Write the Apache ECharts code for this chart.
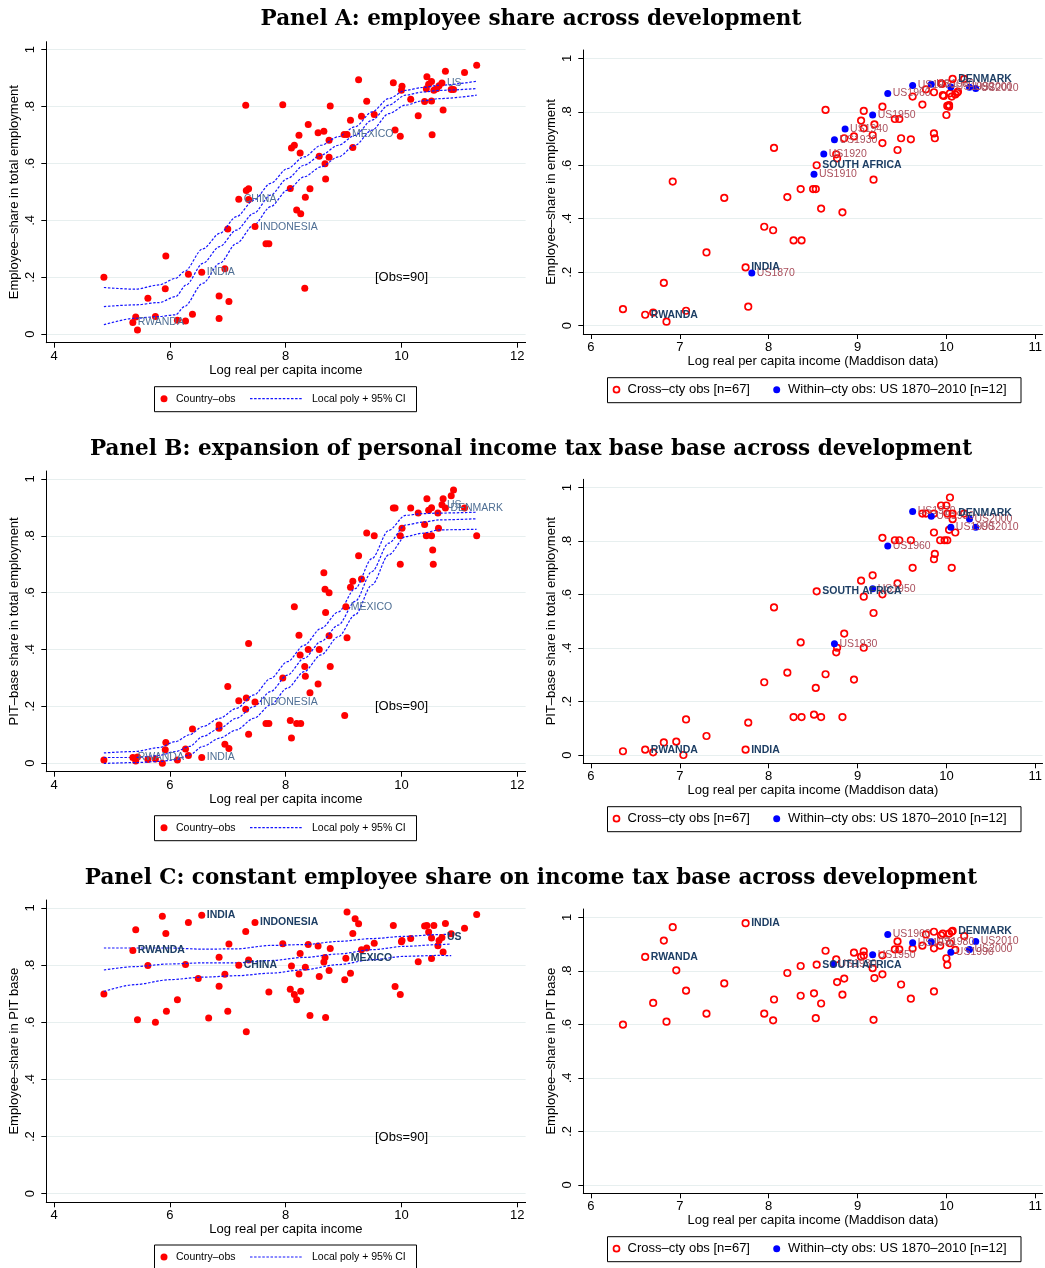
<!DOCTYPE html>
<html>
<head>
<meta charset="utf-8">
<script src="https://cdn.jsdelivr.net/npm/echarts@6/dist/echarts.min.js"></script>
<style>
  html, body { margin: 0; padding: 0; background: #fff; }
  #chart { width: 1045px; height: 1268px; }
</style>
</head>
<body>
<div id="chart"></div>
<script>
// ---------- tick labels ----------
const xTicksLeft = [4, 6, 8, 10, 12];
const xTicksRight = [6, 7, 8, 9, 10, 11];
const yTicks = [0, 0.2, 0.4, 0.6, 0.8, 1];

// ---------- Panel A, left: employee share vs log income ----------
const aLeftObs = [[4.86,0.20],[5.41,0.060],[5.44,0.015],[5.62,0.126],[5.75,0.062],[5.93,0.275],[5.92,0.160],[6.13,0.049],[6.27,0.046],[6.32,0.211],[6.39,0.070],[6.85,0.134],[6.85,0.055],[6.95,0.230],[7.00,0.370],[7.02,0.115],[7.31,0.805],[7.32,0.505],[7.36,0.511],[7.36,0.473],[7.66,0.318],[7.71,0.318],[7.95,0.806],[8.08,0.512],[8.10,0.654],[8.15,0.664],[8.19,0.436],[8.23,0.699],[8.25,0.637],[8.26,0.423],[8.33,0.161],[8.34,0.481],[8.39,0.737],[8.42,0.511],[8.56,0.708],[8.58,0.625],[8.66,0.713],[8.68,0.599],[8.69,0.545],[8.75,0.682],[8.75,0.622],[8.77,0.802],[9.01,0.702],[9.12,0.752],[9.16,0.656],[9.26,0.894],[9.31,0.766],[9.40,0.819],[9.53,0.772],[9.86,0.884],[9.89,0.718],[9.98,0.696],[10.00,0.857],[10.01,0.871],[10.16,0.826],[10.29,0.768],[10.40,0.818],[10.44,0.905],[10.43,0.863],[10.47,0.878],[10.52,0.888],[10.52,0.820],[10.53,0.701],[10.56,0.857],[10.61,0.863],[10.65,0.873],[10.72,0.788],[10.76,0.924],[10.86,0.860],[10.90,0.860],[11.09,0.920],[11.30,0.945]];
const aLeftNamed = [['RWANDA',5.36,0.041],['INDIA',6.55,0.218],['CHINA',7.19,0.474],['INDONESIA',7.47,0.378],['MEXICO',9.06,0.702],['US',10.70,0.883]];
const aLeftFitHi = [[4.86,0.164],[5.40,0.158],[5.81,0.173],[6.10,0.196],[6.25,0.22],[6.57,0.30],[6.86,0.354],[7.15,0.413],[7.45,0.471],[7.74,0.53],[8.03,0.582],[8.32,0.623],[8.61,0.664],[8.91,0.694],[9.20,0.729],[9.49,0.781],[9.78,0.828],[10.07,0.857],[10.36,0.867],[10.66,0.875],[11.30,0.889]];
const aLeftFitMid = [[4.86,0.097],[5.40,0.103],[5.81,0.111],[6.10,0.132],[6.28,0.173],[6.57,0.249],[6.86,0.308],[7.15,0.366],[7.45,0.425],[7.74,0.489],[8.03,0.547],[8.32,0.594],[8.61,0.629],[8.91,0.664],[9.20,0.699],[9.49,0.752],[9.78,0.805],[10.07,0.840],[10.36,0.851],[10.66,0.857],[11.30,0.863]];
const aLeftFitLo = [[4.86,0.033],[5.40,0.056],[5.81,0.062],[6.10,0.068],[6.25,0.097],[6.57,0.179],[6.86,0.249],[7.15,0.319],[7.45,0.384],[7.74,0.448],[8.03,0.506],[8.32,0.553],[8.61,0.588],[8.91,0.623],[9.20,0.664],[9.49,0.717],[9.78,0.775],[10.07,0.805],[10.36,0.820],[10.66,0.828],[11.30,0.840]];

// ---------- Panel A, right: Maddison income, cross-country + US history ----------
const aRightObs = [[6.36,0.062],[6.70,0.049],[6.82,0.160],[6.85,0.015],[6.92,0.539],[7.07,0.056],[7.30,0.274],[7.50,0.478],[7.77,0.071],[7.95,0.370],[8.05,0.357],[8.06,0.665],[8.21,0.481],[8.28,0.319],[8.36,0.511],[8.37,0.319],[8.50,0.511],[8.53,0.511],[8.59,0.438],[8.64,0.807],[8.76,0.641],[8.77,0.626],[8.83,0.424],[8.85,0.701],[8.96,0.708],[9.04,0.767],[9.07,0.803],[9.07,0.738],[9.17,0.713],[9.18,0.546],[9.19,0.753],[9.28,0.819],[9.28,0.683],[9.42,0.773],[9.47,0.773],[9.45,0.657],[9.49,0.701],[9.60,0.697],[9.62,0.857],[9.73,0.827],[9.77,0.884],[9.86,0.719],[9.87,0.701],[9.86,0.873],[9.94,0.906],[9.96,0.862],[10.00,0.788],[10.01,0.822],[10.03,0.819],[10.04,0.869],[10.06,0.857],[10.10,0.865],[10.13,0.875],[10.20,0.923],[9.95,0.904],[9.97,0.859],[10.12,0.871],[10.03,0.825]];
const aRightNamed = [['RWANDA',6.61,0.041],['INDIA',7.74,0.218],['SOUTH AFRICA',8.54,0.600],['DENMARK',10.07,0.923]];
const aRightUSYears = ['US1870','US1910','US1920','US1930','US1940','US1950','US1960','US1970','US1980','US1990','US2000','US2010'];
const aRightUS = [[7.81,0.197],[8.51,0.566],[8.62,0.642],[8.74,0.695],[8.86,0.736],[9.17,0.788],[9.34,0.868],[9.62,0.898],[9.83,0.903],[10.05,0.893],[10.26,0.892],[10.33,0.887]];

// ---------- Panel B, left: PIT-base share vs log income ----------
const bLeftObs = [[4.86,0.011],[5.41,0.008],[5.44,0.022],[5.62,0.013],[5.75,0.015],[5.87,0.000],[5.93,0.073],[5.92,0.047],[6.13,0.011],[6.27,0.050],[6.32,0.027],[6.39,0.120],[6.85,0.134],[6.85,0.123],[6.95,0.067],[7.00,0.270],[7.02,0.052],[7.19,0.220],[7.32,0.229],[7.31,0.190],[7.36,0.421],[7.36,0.102],[7.66,0.140],[7.71,0.140],[7.95,0.300],[8.08,0.150],[8.10,0.089],[8.15,0.550],[8.19,0.140],[8.23,0.450],[8.25,0.381],[8.26,0.140],[8.33,0.340],[8.34,0.306],[8.39,0.400],[8.42,0.248],[8.56,0.279],[8.58,0.400],[8.66,0.670],[8.68,0.612],[8.69,0.530],[8.75,0.600],[8.75,0.448],[8.77,0.340],[9.02,0.168],[9.06,0.441],[9.12,0.619],[9.16,0.640],[9.26,0.730],[9.31,0.648],[9.40,0.810],[9.53,0.800],[9.86,0.898],[9.89,0.898],[9.98,0.700],[9.98,0.800],[10.01,0.827],[10.16,0.898],[10.29,0.880],[10.40,0.840],[10.44,0.930],[10.43,0.800],[10.47,0.890],[10.52,0.800],[10.52,0.899],[10.54,0.750],[10.55,0.700],[10.63,0.880],[10.64,0.827],[10.72,0.930],[10.86,0.941],[10.90,0.961],[11.09,0.898],[11.30,0.800]];
const bLeftNamed = [['RWANDA',5.36,0.020],['INDIA',6.55,0.020],['INDONESIA',7.47,0.215],['MEXICO',9.04,0.550],['US',10.70,0.909],['DENMARK',10.76,0.898]];
const bLeftFitHi = [[4.86,0.036],[5.40,0.041],[5.81,0.055],[6.10,0.076],[6.34,0.10],[6.57,0.129],[6.86,0.158],[7.15,0.193],[7.45,0.240],[7.74,0.298],[8.03,0.357],[8.32,0.415],[8.61,0.474],[8.91,0.532],[9.20,0.614],[9.49,0.720],[9.78,0.819],[10.07,0.872],[10.36,0.878],[10.66,0.880],[11.30,0.883]];
const bLeftFitMid = [[4.86,0.020],[5.40,0.020],[5.81,0.027],[6.10,0.041],[6.34,0.059],[6.57,0.094],[6.86,0.123],[7.15,0.158],[7.45,0.199],[7.74,0.252],[8.03,0.310],[8.32,0.369],[8.61,0.428],[8.91,0.486],[9.20,0.569],[9.49,0.674],[9.78,0.774],[10.07,0.838],[10.36,0.848],[10.66,0.856],[11.30,0.860]];
const bLeftFitLo = [[4.86,-0.001],[5.40,0.002],[5.81,0.006],[6.10,0.012],[6.34,0.029],[6.57,0.059],[6.86,0.088],[7.15,0.117],[7.45,0.158],[7.74,0.205],[8.03,0.264],[8.32,0.322],[8.61,0.381],[8.91,0.445],[9.20,0.522],[9.49,0.627],[9.78,0.733],[10.07,0.797],[10.36,0.809],[10.66,0.821],[11.30,0.823]];

// ---------- Panel B, right ----------
const bRightObs = [[6.36,0.014],[6.70,0.010],[6.82,0.047],[6.96,0.050],[7.04,0.000],[7.07,0.133],[7.30,0.071],[7.77,0.121],[7.95,0.272],[8.06,0.552],[8.21,0.308],[8.28,0.142],[8.36,0.421],[8.37,0.142],[8.51,0.151],[8.53,0.251],[8.59,0.142],[8.64,0.302],[8.76,0.384],[8.77,0.401],[8.83,0.142],[8.85,0.454],[8.96,0.282],[9.04,0.652],[9.07,0.592],[9.07,0.401],[9.17,0.672],[9.18,0.531],[9.28,0.812],[9.28,0.601],[9.42,0.803],[9.47,0.803],[9.45,0.642],[9.60,0.803],[9.62,0.700],[9.73,0.903],[9.77,0.903],[9.86,0.732],[9.87,0.752],[9.86,0.832],[9.86,0.903],[9.94,0.933],[9.93,0.803],[10.00,0.933],[9.98,0.803],[10.01,0.803],[10.01,0.903],[10.03,0.842],[10.04,0.963],[10.06,0.700],[10.07,0.882],[10.10,0.832],[10.20,0.903]];
const bRightNamed = [['RWANDA',6.61,0.020],['INDIA',7.74,0.020],['SOUTH AFRICA',8.54,0.612],['DENMARK',10.07,0.903]];
const bRightUSYears = ['US1930','US1950','US1960','US1970','US1980','US1990','US2000','US2010'];
const bRightUS = [[8.74,0.416],[9.17,0.622],[9.34,0.782],[9.62,0.911],[9.83,0.893],[10.05,0.852],[10.26,0.883],[10.33,0.852]];

// ---------- Panel C, left: employee share within the PIT base ----------
const cLeftObs = [[4.86,0.699],[5.41,0.924],[5.44,0.609],[5.62,0.799],[5.75,0.600],[5.87,0.971],[5.93,0.911],[5.94,0.639],[6.13,0.679],[6.27,0.802],[6.32,0.949],[6.49,0.753],[6.67,0.615],[6.85,0.828],[6.85,0.726],[6.95,0.768],[7.00,0.639],[7.02,0.874],[7.31,0.918],[7.32,0.567],[7.36,0.818],[7.71,0.706],[7.95,0.875],[8.08,0.716],[8.10,0.797],[8.15,0.697],[8.19,0.679],[8.23,0.769],[8.25,0.841],[8.26,0.709],[8.34,0.793],[8.39,0.872],[8.42,0.624],[8.56,0.867],[8.58,0.760],[8.66,0.811],[8.68,0.827],[8.69,0.617],[8.75,0.781],[8.77,0.858],[9.02,0.749],[9.06,0.986],[9.12,0.772],[9.16,0.911],[9.20,0.962],[9.26,0.945],[9.31,0.854],[9.40,0.860],[9.53,0.877],[9.86,0.939],[9.89,0.725],[9.98,0.697],[10.00,0.882],[10.01,0.886],[10.16,0.893],[10.29,0.812],[10.40,0.937],[10.44,0.939],[10.47,0.916],[10.52,0.895],[10.52,0.823],[10.56,0.939],[10.63,0.868],[10.65,0.886],[10.72,0.846],[10.76,0.946],[10.86,0.910],[11.09,0.929],[11.30,0.977]];
const cLeftNamed = [['RWANDA',5.36,0.851],['INDIA',6.55,0.975],['CHINA',7.19,0.800],['INDONESIA',7.47,0.949],['MEXICO',9.04,0.824],['US',10.70,0.897]];
const cLeftFitHi = [[4.86,0.860],[5.40,0.860],[5.99,0.860],[6.57,0.856],[7.15,0.857],[7.74,0.869],[8.32,0.872],[8.91,0.883],[9.49,0.893],[10.07,0.901],[10.66,0.907],[10.86,0.909]];
const cLeftFitMid = [[4.86,0.783],[5.40,0.795],[5.99,0.804],[6.57,0.808],[7.15,0.808],[7.74,0.816],[8.32,0.827],[8.91,0.839],[9.49,0.854],[10.07,0.866],[10.66,0.872],[10.86,0.874]];
const cLeftFitLo = [[4.86,0.708],[5.40,0.732],[5.99,0.749],[6.57,0.758],[7.15,0.763],[7.74,0.772],[8.32,0.784],[8.91,0.802],[9.49,0.819],[10.07,0.831],[10.66,0.834],[10.86,0.833]];

// ---------- Panel C, right ----------
const cRightObs = [[6.36,0.599],[6.70,0.680],[6.82,0.913],[6.85,0.610],[6.92,0.963],[6.96,0.802],[7.07,0.726],[7.30,0.640],[7.50,0.753],[7.95,0.640],[8.05,0.615],[8.06,0.693],[8.21,0.792],[8.36,0.818],[8.36,0.707],[8.51,0.716],[8.53,0.623],[8.59,0.678],[8.64,0.875],[8.76,0.843],[8.77,0.758],[8.83,0.711],[8.85,0.771],[8.96,0.868],[9.04,0.853],[9.07,0.873],[9.07,0.857],[9.17,0.810],[9.18,0.617],[9.19,0.773],[9.28,0.858],[9.28,0.787],[9.42,0.880],[9.47,0.880],[9.45,0.910],[9.49,0.749],[9.60,0.696],[9.62,0.883],[9.73,0.894],[9.77,0.936],[9.86,0.723],[9.86,0.884],[9.86,0.946],[9.94,0.933],[9.96,0.939],[9.93,0.894],[10.00,0.847],[10.01,0.822],[10.03,0.939],[10.04,0.903],[10.06,0.946],[10.10,0.878],[10.20,0.930]];
const cRightNamed = [['RWANDA',6.61,0.852],['INDIA',7.74,0.978],['SOUTH AFRICA',8.54,0.823],['DENMARK',10.07,0.949]];
const cRightUSYears = ['US1930','US1950','US1960','US1970','US1980','US1990','US2000','US2010'];
const cRightUS = [[8.73,0.825],[9.17,0.860],[9.34,0.936],[9.62,0.905],[9.83,0.909],[10.05,0.869],[10.26,0.880],[10.33,0.910]];

// ---------- styling ----------
const SANS = '"Liberation Sans", Arial, sans-serif';
const SERIF = '"DejaVu Serif", serif';
const RED = '#ff0000';
const BLUE = '#0000ff';
const DASH_BLUE = '#1414ff';
const STEEL = '#4f6f94';
const NAVY = '#1d3e64';
const US_RED = '#aa4f5c';
const GRID_LINE = '#e7efef';

// plot regions (left column uses the World Bank income axis, right column Maddison)
const grids = [
  { left: 46.3, top: 41.7, width: 479.3, height: 301 },
  { left: 583.3, top: 50, width: 460.7, height: 284 },
  { left: 46.3, top: 471, width: 479.3, height: 300.7 },
  { left: 583.3, top: 479.3, width: 460.7, height: 284 },
  { left: 46.3, top: 900, width: 479.3, height: 302.3 },
  { left: 583.3, top: 909, width: 460.7, height: 284.3 }
];

function yFmt(v) {
  if (v === 0) return '0';
  if (v === 1) return '1';
  return v.toFixed(1).replace(/^0/, '');
}

function xAxisCfg(gi, left, name) {
  const ticks = left ? xTicksLeft : xTicksRight;
  return {
    type: 'value', gridIndex: gi,
    min: left ? 3.865 : 5.9136, max: left ? 12.145 : 11.082,
    name: name, nameLocation: 'middle', nameGap: left ? 21 : 20,
    nameTextStyle: { fontFamily: SANS, fontSize: 13, color: '#000' },
    axisLine: { show: true, onZero: false, lineStyle: { color: '#000', width: 1 } },
    axisTick: { show: true, length: 5, customValues: ticks, lineStyle: { color: '#000' } },
    axisLabel: { customValues: ticks, margin: 7, fontFamily: SANS, fontSize: 13, color: '#000' },
    splitLine: { show: false }
  };
}

function yAxisCfg(gi, left, name) {
  return {
    type: 'value', gridIndex: gi,
    min: left ? -0.03 : -0.031, max: left ? 1.028 : 1.031,
    name: name, nameLocation: 'middle', nameGap: 25,
    nameTextStyle: { fontFamily: SANS, fontSize: 13, color: '#000' },
    axisLine: { show: true, onZero: false, lineStyle: { color: '#000', width: 1 } },
    axisTick: { show: true, length: 5, customValues: yTicks, lineStyle: { color: '#000' } },
    axisLabel: { customValues: yTicks, rotate: 90, margin: 9, formatter: yFmt, fontFamily: SANS, fontSize: 13, color: '#000' },
    splitLine: { show: true, lineStyle: { color: GRID_LINE, width: 1 } }
  };
}

function namedData(list) {
  return list.map(d => ({ name: d[0], value: [d[1], d[2]] }));
}

function labelCfg(color, bold) {
  return {
    show: true, position: 'right', distance: 1.5, formatter: '{b}',
    fontFamily: SANS, fontSize: 10.5, color: color, fontWeight: bold ? 'bold' : 'normal'
  };
}

function leftPanel(gi, obs, named, hi, mid, lo, bold) {
  const dot = { color: RED, opacity: 1 };
  const out = [
    { type: 'scatter', name: 'Country–obs', xAxisIndex: gi, yAxisIndex: gi, data: obs, symbolSize: 7, itemStyle: dot, z: 2 },
    { type: 'scatter', name: 'Country–obs', xAxisIndex: gi, yAxisIndex: gi, data: namedData(named), symbolSize: 7, itemStyle: dot,
      label: labelCfg(bold ? NAVY : STEEL, bold), z: 4 }
  ];
  [hi, mid, lo].forEach(curve => out.push({
    type: 'line', name: 'Local poly + 95% CI', xAxisIndex: gi, yAxisIndex: gi, data: curve,
    showSymbol: false, smooth: 0.3, smoothMonotone: 'x',
    lineStyle: { color: DASH_BLUE, width: 1.2, type: [2.5, 1.6] }, z: 3
  }));
  return out;
}

function rightPanel(gi, obs, named, years, us) {
  const ring = { color: 'rgba(255,255,255,0)', borderColor: RED, borderWidth: 1.7, opacity: 1 };
  return [
    { type: 'scatter', name: 'Cross–cty obs', xAxisIndex: gi, yAxisIndex: gi, data: obs, symbolSize: 6.5, itemStyle: ring, z: 2 },
    { type: 'scatter', name: 'Within–cty obs', xAxisIndex: gi, yAxisIndex: gi,
      data: us.map((d, i) => ({ name: years[i], value: d })), symbolSize: 7, itemStyle: { color: BLUE, opacity: 1 },
      label: labelCfg(US_RED, false), z: 3 },
    { type: 'scatter', name: 'Cross–cty obs', xAxisIndex: gi, yAxisIndex: gi, data: namedData(named), symbolSize: 6.5, itemStyle: ring,
      label: labelCfg(NAVY, true), z: 5 }
  ];
}

// ---------- legends, titles and notes ----------
function leftLegend(top) {
  const cy = top + 12.5;
  return {
    type: 'group', z: 100, children: [
      { type: 'rect', shape: { x: 154.5, y: top + 0.5, width: 262, height: 25 }, style: { fill: '#fff', stroke: '#000', lineWidth: 1 } },
      { type: 'circle', shape: { cx: 164, cy: cy, r: 3.5 }, style: { fill: RED } },
      { type: 'text', x: 176, y: cy, style: { text: 'Country–obs', font: '10.5px ' + SANS, fill: '#000', align: 'left', verticalAlign: 'middle' } },
      { type: 'line', shape: { x1: 250, y1: cy, x2: 303, y2: cy }, style: { stroke: DASH_BLUE, lineWidth: 1.2, lineDash: [2.5, 1.6] } },
      { type: 'text', x: 312, y: cy, style: { text: 'Local poly + 95% CI', font: '10.5px ' + SANS, fill: '#000', align: 'left', verticalAlign: 'middle' } }
    ]
  };
}

function rightLegend(top) {
  const cy = top + 12.5;
  return {
    type: 'group', z: 100, children: [
      { type: 'rect', shape: { x: 607.5, y: top + 0.5, width: 413.5, height: 25 }, style: { fill: '#fff', stroke: '#000', lineWidth: 1 } },
      { type: 'circle', shape: { cx: 616.5, cy: cy, r: 3 }, style: { fill: 'none', stroke: RED, lineWidth: 1.7 } },
      { type: 'text', x: 627.5, y: cy, style: { text: 'Cross–cty obs [n=67]', font: '13px ' + SANS, fill: '#000', align: 'left', verticalAlign: 'middle' } },
      { type: 'circle', shape: { cx: 776.7, cy: cy, r: 3.5 }, style: { fill: BLUE } },
      { type: 'text', x: 788, y: cy, style: { text: 'Within–cty obs: US 1870–2010 [n=12]', font: '13px ' + SANS, fill: '#000', align: 'left', verticalAlign: 'middle' } }
    ]
  };
}

function titleText(text, y) {
  return { type: 'text', x: 531, y: y, z: 100, style: { text: text, font: 'bold 21.5px ' + SERIF, fill: '#000', align: 'center', verticalAlign: 'middle' } };
}

function obsNote(y) {
  return { type: 'text', x: 401.5, y: y, z: 100, style: { text: '[Obs=90]', font: '13px ' + SANS, fill: '#000', align: 'center', verticalAlign: 'middle' } };
}

const chart = echarts.init(document.getElementById('chart'), null, { renderer: 'canvas' });
chart.setOption({
  animation: false,
  backgroundColor: '#fff',
  grid: grids,
  xAxis: [
    xAxisCfg(0, true, 'Log real per capita income'),
    xAxisCfg(1, false, 'Log real per capita income (Maddison data)'),
    xAxisCfg(2, true, 'Log real per capita income'),
    xAxisCfg(3, false, 'Log real per capita income (Maddison data)'),
    xAxisCfg(4, true, 'Log real per capita income'),
    xAxisCfg(5, false, 'Log real per capita income (Maddison data)')
  ],
  yAxis: [
    yAxisCfg(0, true, 'Employee–share in total employment'),
    yAxisCfg(1, false, 'Employee–share in employment'),
    yAxisCfg(2, true, 'PIT–base share in total employment'),
    yAxisCfg(3, false, 'PIT–base share in total employment'),
    yAxisCfg(4, true, 'Employee–share in PIT base'),
    yAxisCfg(5, false, 'Employee–share in PIT base')
  ],
  series: [].concat(
    leftPanel(0, aLeftObs, aLeftNamed, aLeftFitHi, aLeftFitMid, aLeftFitLo, false),
    rightPanel(1, aRightObs, aRightNamed, aRightUSYears, aRightUS),
    leftPanel(2, bLeftObs, bLeftNamed, bLeftFitHi, bLeftFitMid, bLeftFitLo, false),
    rightPanel(3, bRightObs, bRightNamed, bRightUSYears, bRightUS),
    leftPanel(4, cLeftObs, cLeftNamed, cLeftFitHi, cLeftFitMid, cLeftFitLo, true),
    rightPanel(5, cRightObs, cRightNamed, cRightUSYears, cRightUS)
  ),
  graphic: [
    titleText('Panel A: employee share across development', 19),
    titleText('Panel B: expansion of personal income tax base base across development', 449),
    titleText('Panel C: constant employee share on income tax base across development', 878),
    obsNote(277.7), obsNote(706.7), obsNote(1137.7),
    leftLegend(386.2), leftLegend(815.2), leftLegend(1244.5),
    rightLegend(377.2), rightLegend(806.2), rightLegend(1236.2)
  ]
});
</script>
</body>
</html>
